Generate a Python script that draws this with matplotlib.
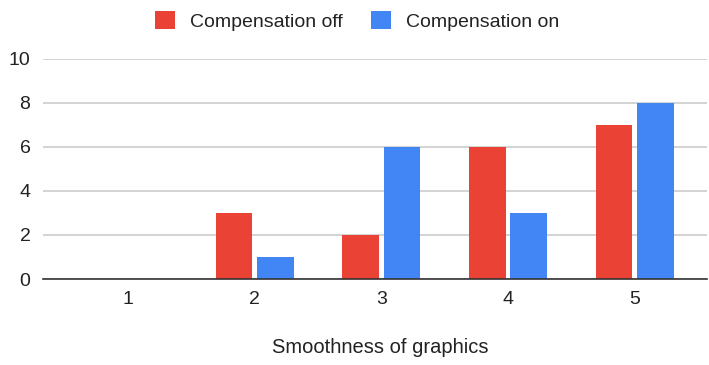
import matplotlib
matplotlib.use("Agg")
import matplotlib.pyplot as plt
import numpy as np

categories = ["1", "2", "3", "4", "5"]
comp_off = [0, 3, 2, 6, 7]
comp_on = [0, 1, 6, 3, 8]
y_ticks = [0, 2, 4, 6, 8, 10]

RED = "#EA4335"
BLUE = "#4285F4"

plt.rcParams["font.family"] = ["Liberation Sans", "DejaVu Sans"]

fig = plt.figure(figsize=(7.09, 3.65), dpi=100)
ax = fig.add_axes([43 / 709, 1 - 279 / 365, (707 - 43) / 709, (279 - 58.7) / 365])

x = np.arange(1, len(categories) + 1)
w = 0.29
off = 0.163
ax.bar(x - off, comp_off, width=w, color=RED, label="Compensation off", zorder=3)
ax.bar(x + off, comp_on, width=w, color=BLUE, label="Compensation on", zorder=3)

ax.set_xlim(0.33, 5.57)
ax.set_ylim(0, 10)
ax.set_yticks(y_ticks)
ax.set_xticks(x)
ax.set_xticklabels(categories)
ax.grid(axis="y", color="#cccccc", lw=1.2, zorder=0)
ax.tick_params(length=0, labelsize=14, colors="#222222")
ax.tick_params(axis="x", pad=9)
ax.tick_params(axis="y", pad=9)
for s in ["top", "right", "left"]:
    ax.spines[s].set_visible(False)
ax.spines["bottom"].set_color("#333333")
ax.spines["bottom"].set_linewidth(1.2)
ax.spines["bottom"].set_zorder(4)

ax.set_xlabel("Smoothness of graphics", fontsize=14.5, color="#222222")
ax.xaxis.set_label_coords(0.508, -0.27)

fig.legend(loc="center", bbox_to_anchor=(357 / 709, 1 - 21 / 365), ncol=2, frameon=False,
           fontsize=14, handlelength=1.05, handleheight=1.05, columnspacing=1.45,
           handletextpad=0.75, labelcolor="#222222")

fig.savefig("out.png", dpi=100)
